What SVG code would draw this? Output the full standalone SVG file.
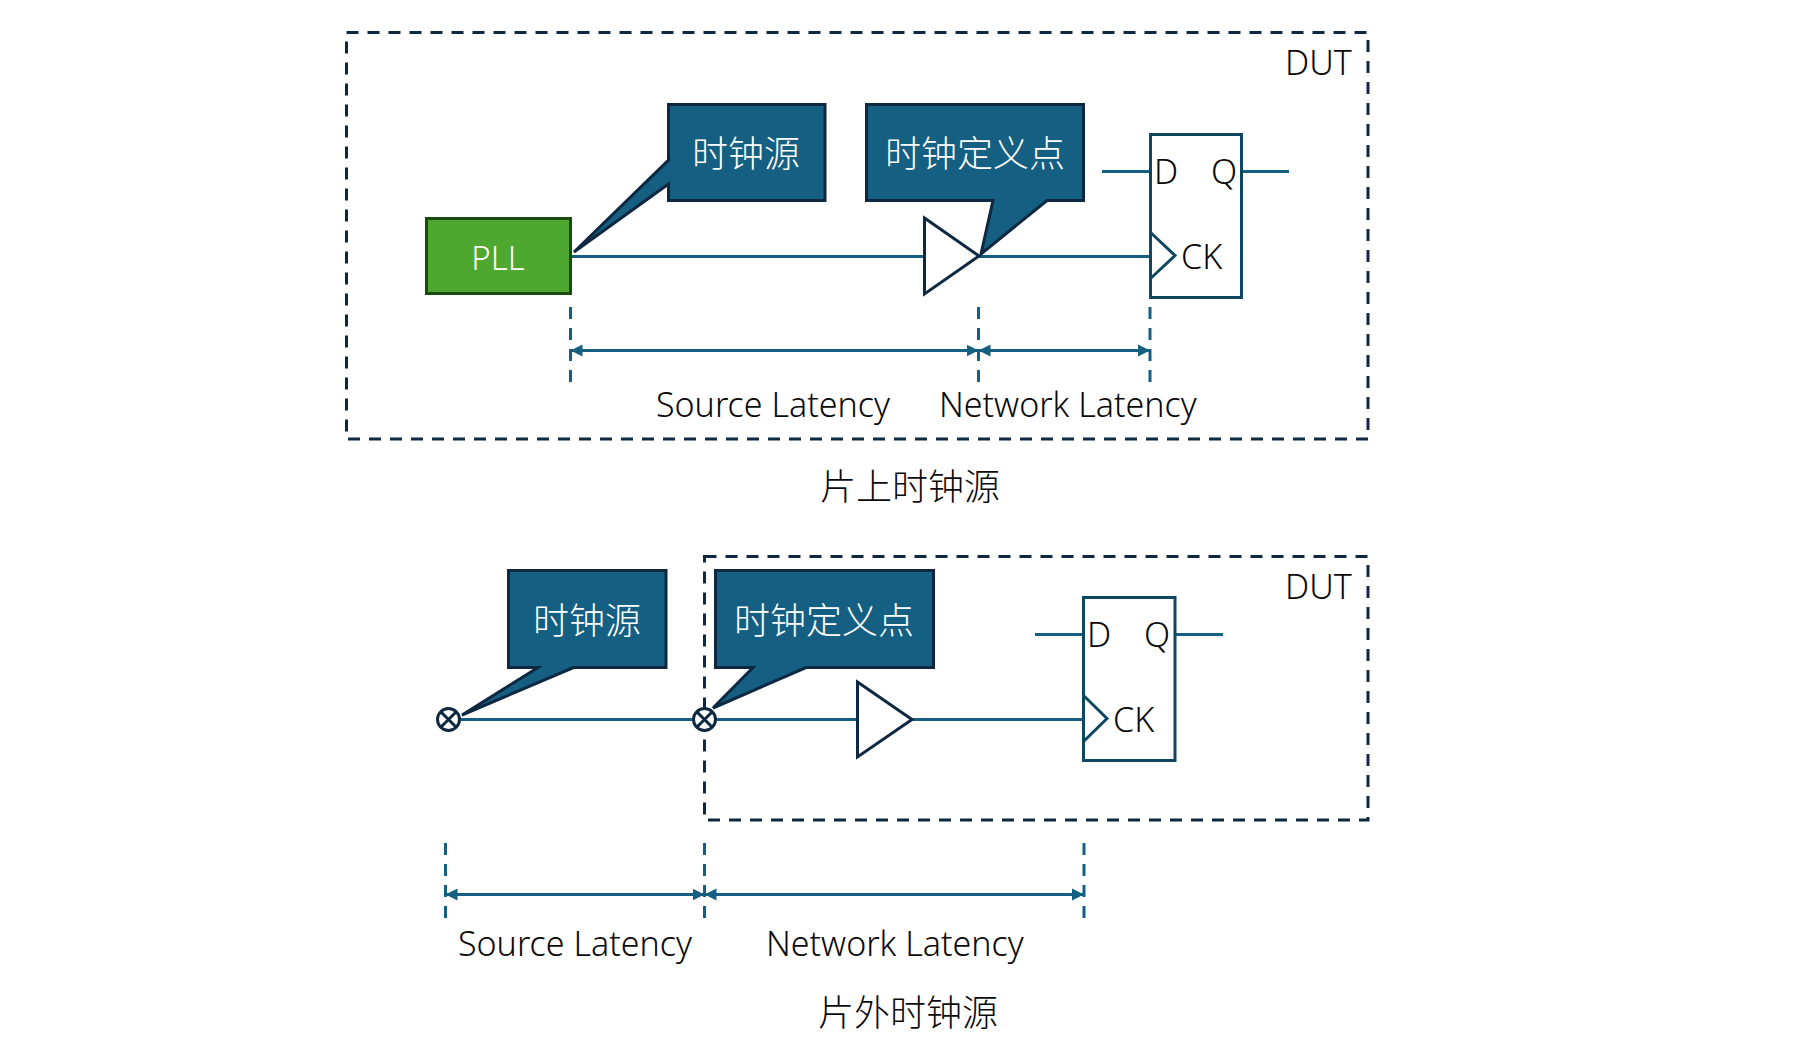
<svg xmlns="http://www.w3.org/2000/svg" width="1796" height="1058" viewBox="0 0 1796 1058">
<defs>
<marker id="arrowS" markerUnits="userSpaceOnUse" markerWidth="14" markerHeight="14" refX="0" refY="7" orient="auto"><path d="M0 7L12 1V13Z" fill="#156082"/></marker>
<marker id="arrowE" markerUnits="userSpaceOnUse" markerWidth="14" markerHeight="14" refX="12" refY="7" orient="auto"><path d="M12 7L0 1V13Z" fill="#156082"/></marker>
</defs>
<style>
.dut{fill:none;stroke:#0e2841;stroke-width:3;stroke-dasharray:12 9}
.wire{fill:none;stroke:#156082;stroke-width:3}
.tick{fill:none;stroke:#156082;stroke-width:3;stroke-dasharray:12 9}
.dim{fill:none;stroke:#156082;stroke-width:3;marker-start:url(#arrowS);marker-end:url(#arrowE)}
.call{fill:#156082;stroke:#0e2841;stroke-width:3}
.buf{fill:#fff;stroke:#0e2841;stroke-width:3;stroke-linejoin:miter}
.ff{fill:#fff;stroke:#0f4761;stroke-width:3}
.notch{fill:none;stroke:#0f4761;stroke-width:3}
.src{fill:#fff;stroke:#0e2841;stroke-width:3}
text{font-family:"Noto Sans","Noto Sans CJK SC",sans-serif;font-weight:300;fill:#0a0a0a}
.lb{font-size:34px}
.la{font-size:34px}
.cap{font-size:36px;text-anchor:middle;font-family:"Noto Sans CJK SC",sans-serif}
.ct{font-size:36px;fill:#fff;text-anchor:middle;font-family:"Noto Sans CJK SC",sans-serif}
</style>

<g id="dut-top"><rect class="dut" x="346.500" y="32.500" width="1021.500" height="406.500"/><text class="lb" x="1285" y="75">DUT</text></g>
<g id="dut-bottom"><rect class="dut" x="704.500" y="556.500" width="663.500" height="263.500"/><text class="lb" x="1285" y="599">DUT</text></g>

<g id="connectors">
<path class="wire" d="M571 256.500H925M979 256.500H1150M1102 171.500H1150M1241 171.500H1289"/>
<path class="wire" d="M460 719.500H857M912 719.500H1083M1035 634.500H1083M1175 634.500H1223"/>
<path class="tick" d="M570.500 307V382M978.500 307V382M1150 307V382"/>
<path class="dim" d="M570.500 350.500H978.500"/>
<path class="dim" d="M978.500 350.500H1150"/>
<path class="tick" d="M445.500 843V918M704.500 843V918M1084 843V918"/>
<path class="dim" d="M445.500 894.500H704.500"/>
<path class="dim" d="M704.500 894.500H1084"/>
</g>

<g id="pll"><rect x="426.500" y="218.500" width="144" height="75" fill="#4ea72e" stroke="#1b4a0f" stroke-width="3"/><text x="498" y="270" font-size="33" text-anchor="middle" style="fill:#fff">PLL</text></g>

<g id="buffer-top"><path class="buf" d="M924.500 218L979 256L924.500 294Z"/></g>
<g id="buffer-bottom"><path class="buf" d="M857.500 682L912 719.500L857.500 757Z"/></g>

<g id="callout-source-top"><path class="call" d="M668.500 104.500H825V200.500H668.500V184L574 252L668.500 160Z"/><text class="ct" x="746" y="167">时钟源</text></g>
<g id="callout-def-top"><path class="call" d="M866.500 104.500H1083.500V200.500H1047L981 254L993 200.500H866.500Z"/><text class="ct" x="975" y="167">时钟定义点</text></g>
<g id="callout-source-bottom"><path class="call" d="M508.500 570.500H666V667.500H573.500L462 715L538 667.500H508.500Z"/><text class="ct" x="587" y="634">时钟源</text></g>
<g id="callout-def-bottom"><path class="call" d="M715.500 570.500H933.500V667.500H806L713 708L753 667.500H715.500Z"/><text class="ct" x="824" y="634">时钟定义点</text></g>

<g id="ff-top"><rect class="ff" x="1150.500" y="134.500" width="91" height="163"/><path class="notch" d="M1150 232L1175 255.500L1150 279"/><text class="la" x="1154" y="184">D</text><text class="la" x="1211" y="184">Q</text><text class="la" x="1181" y="269">CK</text></g>
<g id="ff-bottom"><rect class="ff" x="1083.500" y="597.500" width="91.500" height="163"/><path class="notch" d="M1083 695L1107 718.500L1083 742"/><text class="la" x="1087" y="647">D</text><text class="la" x="1144" y="647">Q</text><text class="la" x="1113" y="732">CK</text></g>

<g id="source-left"><circle class="src" cx="448.500" cy="719.500" r="11"/><path class="src" d="M441 712L456 727M456 712L441 727"/></g>
<g id="source-right"><circle class="src" cx="704.500" cy="719.500" r="11"/><path class="src" d="M697 712L712 727M712 712L697 727"/></g>

<g id="labels">
<text class="lb" x="656" y="417">Source Latency</text>
<text class="lb" x="939" y="417">Network Latency</text>
<text class="lb" x="458" y="956">Source Latency</text>
<text class="lb" x="766" y="956">Network Latency</text>
<text class="cap" x="910" y="500">片上时钟源</text>
<text class="cap" x="908" y="1026">片外时钟源</text>
</g>
</svg>
